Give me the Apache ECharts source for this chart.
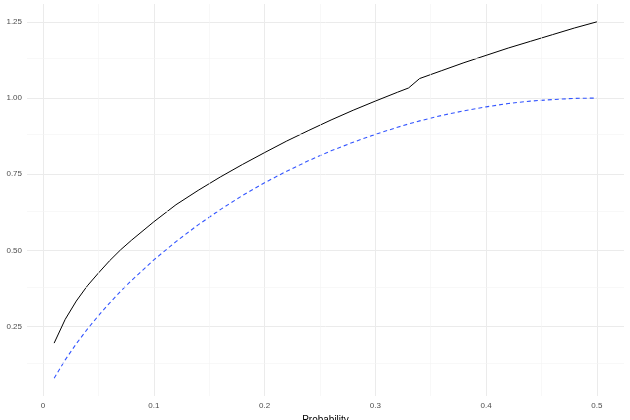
<!DOCTYPE html>
<html>
<head>
<meta charset="utf-8">
<script src="https://cdn.jsdelivr.net/npm/echarts@6/dist/echarts.min.js"></script>
<style>html,body{margin:0;background:#fff}#c{width:630px;height:420px}</style>
</head>
<body>
<div id="c"></div>
<script>
// values
const probs = [0.01, 0.02, 0.03, 0.04, 0.05, 0.06, 0.07, 0.08, 0.10, 0.12, 0.14, 0.16, 0.18, 0.20,
  0.22, 0.24, 0.26, 0.28, 0.30, 0.32, 0.33, 0.34, 0.36, 0.38, 0.40, 0.42, 0.44, 0.46, 0.48, 0.50]
const testsPooled = [0.196, 0.274, 0.334, 0.384, 0.426, 0.466, 0.502, 0.534, 0.594, 0.650, 0.697,
  0.741, 0.782, 0.821, 0.859, 0.894, 0.928, 0.960, 0.990, 1.019, 1.033, 1.064, 1.090, 1.116, 1.140,
  1.164, 1.186, 1.208, 1.230, 1.250]
const testsBound = [0.081, 0.141, 0.194, 0.242, 0.286, 0.327, 0.366, 0.402, 0.469, 0.529, 0.584,
  0.634, 0.680, 0.722, 0.760, 0.795, 0.827, 0.855, 0.881, 0.904, 0.915, 0.925, 0.943, 0.958, 0.971,
  0.982, 0.990, 0.995, 0.999, 1.000]
const xTicks = [0, 0.1, 0.2, 0.3, 0.4, 0.5]
const yTicks = [0.25, 0.5, 0.75, 1.0, 1.25]
const xMinor = [0.05, 0.15, 0.25, 0.35, 0.45]
const yMinor = [0.125, 0.375, 0.625, 0.875, 1.125]

const chart = echarts.init(document.getElementById('c'))
const labelStyle = { color: '#4d4d4d', fontSize: 8, fontFamily: 'Liberation Sans' }
const minorLine = { color: '#f4f4f4', width: 0.6, type: 'solid' }

chart.setOption({
  animation: false,
  grid: { left: 27, right: 6, top: 4, bottom: 24, outerBoundsMode: 'none', containLabel: false },
  xAxis: {
    type: 'value', min: -0.0145, max: 0.5245,
    name: 'Probability', nameLocation: 'middle', nameGap: 15,
    nameTextStyle: { color: '#000', fontSize: 10, fontFamily: 'Liberation Sans' },
    axisLine: { show: false },
    axisTick: { show: false, customValues: xTicks },
    axisLabel: { ...labelStyle, customValues: xTicks, margin: 6, formatter: (v) => String(+v.toFixed(1)) },
    splitLine: { show: true, lineStyle: { color: '#ebebeb', width: 1 } },
  },
  yAxis: {
    type: 'value', min: 0.0225, max: 1.3085,
    name: 'Tests per person', nameLocation: 'middle', nameGap: 19, nameRotate: 90,
    nameTextStyle: { color: '#000', fontSize: 10, fontFamily: 'Liberation Sans' },
    axisLine: { show: false },
    axisTick: { show: false, customValues: yTicks },
    axisLabel: { ...labelStyle, customValues: yTicks, margin: 5, formatter: (v) => v.toFixed(2) },
    splitLine: { show: true, lineStyle: { color: '#ebebeb', width: 1 } },
  },
  series: [
    {
      type: 'line', symbol: 'none', silent: true,
      data: probs.map((p, i) => [p, testsPooled[i]]),
      lineStyle: { color: '#000', width: 1 },
      markLine: {
        silent: true, symbol: 'none', label: { show: false }, lineStyle: minorLine,
        data: xMinor.map((v) => ({ xAxis: v })).concat(yMinor.map((v) => ({ yAxis: v }))),
      },
    },
    {
      type: 'line', symbol: 'none', silent: true,
      data: probs.map((p, i) => [p, testsBound[i]]),
      lineStyle: { color: '#3355ff', width: 1.1, type: [4, 3] },
    },
  ],
})
</script>
</body>
</html>
